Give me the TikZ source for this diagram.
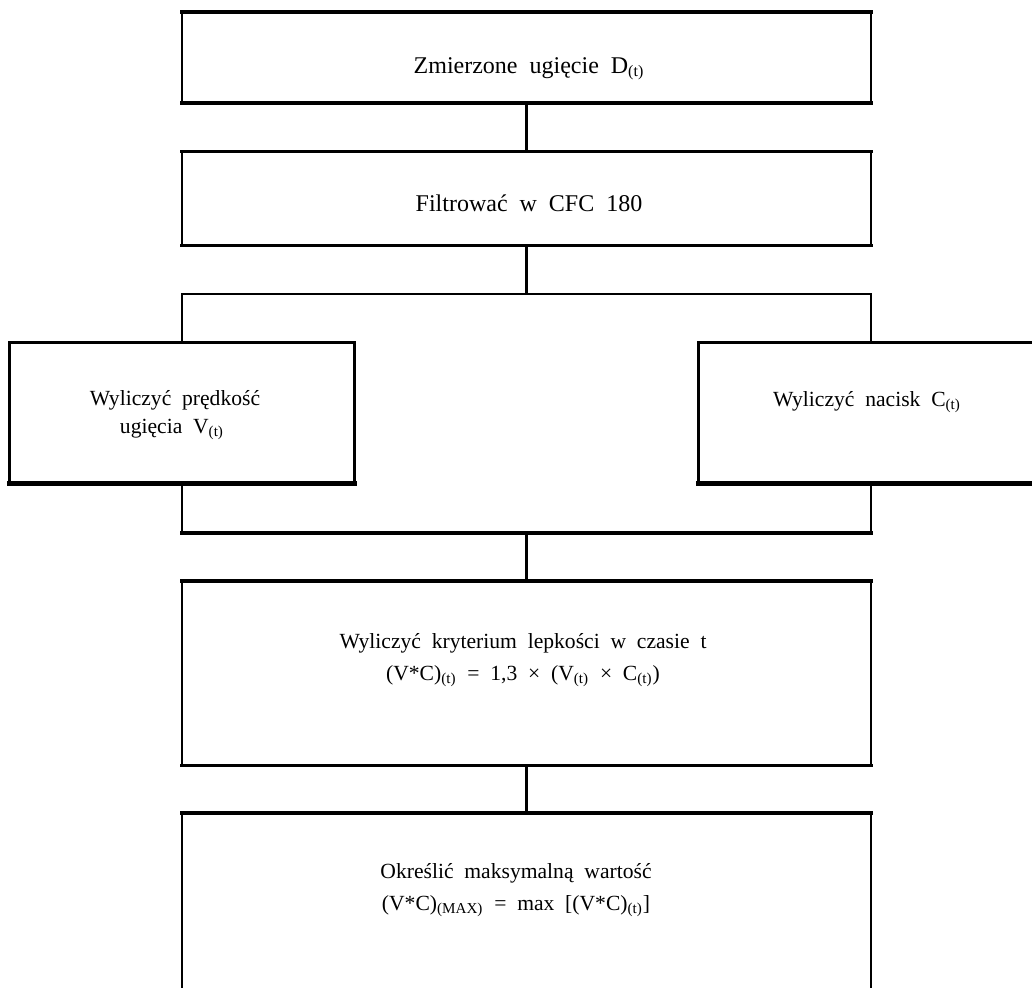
\documentclass[tikz,border=0pt]{standalone}
\usepackage{fontspec}
\setmainfont[WordSpace={2,1,1}]{Liberation Serif}
\begin{document}
\begin{tikzpicture}[x=0.5pt,y=-0.5pt,
  boxshape/.style={draw=none, inner sep=0pt, rectangle},
  side/.style={line width=1pt, line cap=rect},
  medh/.style={line width=1.4pt, line cap=rect},
  thickh/.style={line width=2pt, line cap=rect},
  conn/.style={line width=1.5pt},
  big/.style={anchor=base, inner sep=0pt, font=\fontsize{12}{15}\selectfont},
  txt/.style={anchor=base, inner sep=0pt, font=\fontsize{10.8}{14}\selectfont}]
\useasboundingbox (0,0) rectangle (1032,987);
% boxes
\node[boxshape, minimum width=344.5pt, minimum height=45.5pt] (b1) at (526.5,57.5) {};
\node[boxshape, minimum width=344.5pt, minimum height=46.5pt] (b2) at (526.5,198.5) {};
\node[boxshape, minimum width=172pt, minimum height=70pt] (bl) at (182,413) {};
\node[boxshape, minimum width=172pt, minimum height=70pt] (br) at (871,413) {};
\node[boxshape, minimum width=344.5pt, minimum height=92pt] (b4) at (526.5,673) {};
\node[boxshape, minimum width=344.5pt, minimum height=95pt] (b5) at (526.5,908) {};
% fork / join coordinates
\coordinate (ft) at (526.5,294);
\coordinate (ftl) at (182,294);
\coordinate (ftr) at (871,294);
\coordinate (jb) at (526.5,533);
\coordinate (jbl) at (182,533);
\coordinate (jbr) at (871,533);
% box 1
\draw[side] (b1.north west) -- (b1.south west) (b1.north east) -- (b1.south east);
\draw[thickh] (b1.north west) -- (b1.north east) (b1.south west) -- (b1.south east);
% box 2
\draw[side] (b2.north west) -- (b2.south west) (b2.north east) -- (b2.south east);
\draw[medh] (b2.north west) -- (b2.north east) (b2.south west) -- (b2.south east);
% left box
\draw[medh] (bl.north west) -- (bl.south west) (bl.north east) -- (bl.south east);
\draw[medh] (bl.north west) -- (bl.north east);
\draw[line width=2.2pt, line cap=rect] (bl.south west) -- (bl.south east);
% right box
\draw[medh] (br.north west) -- (br.south west) (br.north east) -- (br.south east);
\draw[medh] (br.north west) -- (br.north east);
\draw[line width=2.2pt, line cap=rect] (br.south west) -- (br.south east);
% box 4
\draw[side] (b4.north west) -- (b4.south west) (b4.north east) -- (b4.south east);
\draw[thickh] (b4.north west) -- (b4.north east);
\draw[medh] (b4.south west) -- (b4.south east);
% box 5 (open bottom)
\draw[side] (b5.north west) -- (b5.south west) (b5.north east) -- (b5.south east);
\draw[thickh] (b5.north west) -- (b5.north east);
% fork
\draw[side] (bl.north) -- (ftl) (br.north) -- (ftr);
\draw[medh] (ftl) -- (ftr);
% join
\draw[side] (bl.south) -- (jbl) (br.south) -- (jbr);
\draw[thickh] (jbl) -- (jbr);
% connectors
\draw[conn] (b1.south) -- (b2.north);
\draw[conn] (b2.south) -- (ft);
\draw[conn] (jb) -- (b4.north);
\draw[conn] (b4.south) -- (b5.north);
% texts
\node[big] (t1) at (529,73) {Zmierzone ugięcie D\textsubscript{(t)}};
\node[big] (t2) at (529,211) {Filtrować w CFC 180};
\node[txt] (tl1) at (175,405) {Wyliczyć prędkość};
\node[txt] (tl2) at (172,433) {ugięcia V\textsubscript{(t)}};
\node[txt] (tr1) at (867,406) {Wyliczyć nacisk C\textsubscript{(t)}};
\node[txt] (t41) at (523,648) {Wyliczyć kryterium lepkości w czasie t};
\node[txt] (t42) at (523,680) {(V*C)\textsubscript{(t)} = 1,3 × (V\textsubscript{(t)} × C\textsubscript{(t)})};
\node[txt] (t51) at (516,878) {Określić maksymalną wartość};
\node[txt] (t52) at (516,910) {(V*C)\textsubscript{(MAX)} = max [(V*C)\textsubscript{(t)}]};
\end{tikzpicture}
\end{document}
